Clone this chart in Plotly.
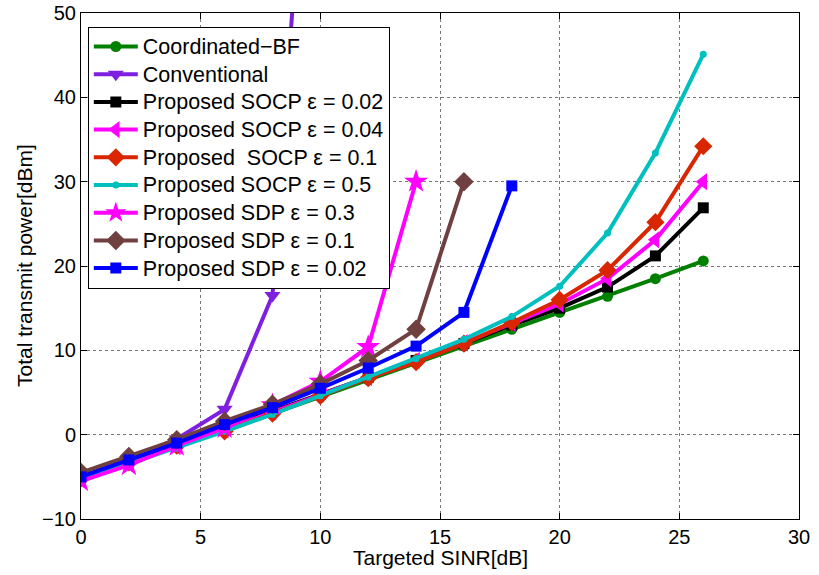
import plotly.graph_objects as go

x_all = [0, 2, 4, 6, 8, 10, 12, 14, 16, 18, 20, 22, 24, 26]

coord_bf = [-5, -3.2, -1.3, 0.5, 2.5, 4.5, 6.5, 8.5, 10.5, 12.5, 14.5, 16.4, 18.5, 20.6]
x_conv = [0, 2, 4, 6, 8, 10]
conventional = [-5, -3, -0.5, 3, 16.5, 98]
socp_002 = [-5, -3.1, -1.1, 0.8, 2.8, 4.8, 6.8, 8.8, 10.8, 13, 15, 17.5, 21.2, 26.9]
socp_004 = [-5.3, -3.4, -1.4, 0.6, 2.7, 4.8, 6.8, 8.8, 10.9, 13.2, 15.5, 18.5, 23.1, 30]
socp_01 = [-5.2, -3.3, -1.3, 0.4, 2.5, 4.6, 6.7, 8.6, 10.8, 13.3, 16, 19.5, 25.2, 34.2]
socp_05 = [-5.4, -3.5, -1.6, 0.4, 2.4, 4.6, 6.8, 9, 11.3, 14, 17.6, 23.9, 33.4, 45.1]
x_sdp03 = [0, 2, 4, 6, 8, 10, 12, 14]
sdp_03 = [-5.5, -3.6, -1.3, 0.8, 3.5, 6.3, 10.4, 30]
x_sdp01 = [0, 2, 4, 6, 8, 10, 12, 14, 16]
sdp_01 = [-4.5, -2.6, -0.6, 1.6, 3.6, 6, 8.8, 12.5, 30]
x_sdp002 = [0, 2, 4, 6, 8, 10, 12, 14, 16, 18]
sdp_002 = [-5, -3, -1, 1.2, 3.2, 5.5, 7.9, 10.5, 14.5, 29.5]

series = [
    ("Coordinated\u2212BF", x_all, coord_bf, "#008000", "circle", 11),
    ("Conventional", x_conv, conventional, "#7f1fe0", "triangle-down", 14),
    ("Proposed SOCP \u03b5 = 0.02", x_all, socp_002, "#000000", "square", 11),
    ("Proposed SOCP \u03b5 = 0.04", x_all, socp_004, "#ff00ff", "triangle-left", 15),
    ("Proposed &nbsp;SOCP \u03b5 = 0.1", x_all, socp_01, "#d92600", "diamond", 14),
    ("Proposed SOCP \u03b5 = 0.5", x_all, socp_05, "#00bfbf", "circle", 7),
    ("Proposed SDP \u03b5 = 0.3", x_sdp03, sdp_03, "#ff00ff", "star", 18),
    ("Proposed SDP \u03b5 = 0.1", x_sdp01, sdp_01, "#704040", "diamond", 15),
    ("Proposed SDP \u03b5 = 0.02", x_sdp002, sdp_002, "#0000ff", "square", 11),
]

fig = go.Figure()
for name, xs, ys, color, sym, size in series:
    fig.add_trace(go.Scatter(
        x=xs, y=ys, name='<span style="font-size:21.5px">' + name + '</span>',
        mode="lines+markers",
        line=dict(color=color, width=4),
        marker=dict(symbol=sym, size=size, color=color, line=dict(width=0)),
        cliponaxis=True,
    ))

FONT = "Liberation Sans, Arial"
axis_common = dict(
    showgrid=True, gridcolor="#777", griddash="dot", gridwidth=1,
    showline=True, linecolor="black", linewidth=1, mirror="ticks",
    ticks="inside", ticklen=6, tickcolor="black",
    zeroline=False, automargin=False,
    tickfont=dict(family=FONT, size=20, color="black"),
)

fig.update_layout(
    width=819, height=575,
    paper_bgcolor="white", plot_bgcolor="white",
    margin=dict(l=81, r=20, t=13, b=56),
    xaxis=dict(range=[0, 30], tick0=0, dtick=5, **axis_common),
    yaxis=dict(range=[-10, 50], tick0=-10, dtick=10, **axis_common),
    legend=dict(x=0.0095, y=0.973, xanchor="left", yanchor="top",
                bgcolor="white", bordercolor="black", borderwidth=1,
                font=dict(family=FONT, size=19, color="black"),
                tracegroupgap=0, itemwidth=44),
    showlegend=True,
    annotations=[
        dict(text="Targeted SINR[dB]", xref="paper", yref="paper",
             x=0.5, y=0, yshift=-38, xanchor="center", yanchor="middle",
             showarrow=False, font=dict(family=FONT, size=21, color="black")),
        dict(text="Total transmit power[dBm]", xref="paper", yref="paper",
             x=0, y=0.5, xshift=-57, xanchor="center", yanchor="middle",
             textangle=-90, showarrow=False,
             font=dict(family=FONT, size=21, color="black")),
    ],
)

fig.write_html("out.html", config={"displayModeBar": False},
               post_script="document.body.style.margin='0';document.body.style.overflow='hidden';")
